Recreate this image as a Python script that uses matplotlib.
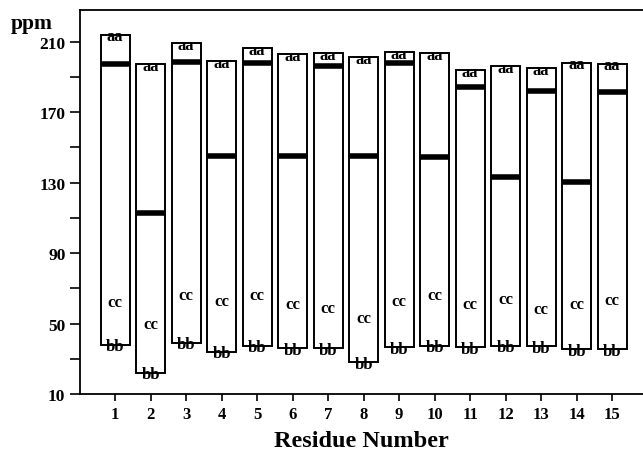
import numpy as np
import matplotlib
matplotlib.use('Agg')
from matplotlib import pyplot as plt
from matplotlib.patches import Rectangle

# values (ppm)
residue = list(range(1, 16))
top_aa = [214, 197, 209, 199, 206.5, 203, 203.5, 201, 204, 203.5, 194, 196, 195, 198, 197.5]
iso_val = [197.5, 113, 198.5, 145, 198, 145, 196, 145, 198, 144.5, 184.5, 133, 182, 130.5, 181.5]
bot_bb = [38, 22, 39, 34, 37.5, 36, 36, 28, 36.5, 37.5, 36.5, 37.5, 37, 35.5, 35.5]
cc_pos = [62, 50, 66, 63, 66, 61, 59, 53, 63, 66, 61, 64, 58.5, 61, 63.5]

plt.rcParams['font.family'] = ['Liberation Serif', 'DejaVu Serif']
plt.rcParams['font.weight'] = 'bold'

fig = plt.figure(figsize=(6.43, 4.52), dpi=100)
ax = fig.add_axes([0.1244, 0.126, 0.8756, 0.85])

w = 0.82
for x, t, m, b, c in zip(residue, top_aa, iso_val, bot_bb, cc_pos):
    ax.add_patch(Rectangle((x - w / 2, b), w, t - b, fill=False, edgecolor='black', lw=1.4))
    ax.plot([x - w / 2, x + w / 2], [m, m], color='black', lw=4, solid_capstyle='butt')
    ax.text(x, t - 1.0, 'aa', ha='center', va='center', fontsize=12, fontweight='bold')
    ax.text(x, b - 0.8, 'bb', ha='center', va='center', fontsize=12, fontweight='bold')
    ax.text(x, c, 'cc', ha='center', va='center', fontsize=12, fontweight='bold')

ax.set_xlim(0.01, 15.87)
ax.set_ylim(10, 228)
ax.set_xticks(residue)
ax.set_yticks([10, 50, 90, 130, 170, 210])
ax.set_yticks([30, 70, 110, 150, 190], minor=True)
ax.tick_params(axis='y', which='both', direction='out', length=7, width=1.2, labelsize=12.5)
ax.tick_params(axis='x', direction='out', length=5, width=1.2, labelsize=12)
for lab in ax.get_xticklabels() + ax.get_yticklabels():
    lab.set_fontweight('bold')

ax.spines['right'].set_visible(False)
for s in ['left', 'top', 'bottom']:
    ax.spines[s].set_linewidth(1.3)

ax.set_xlabel('Residue Number', fontsize=17.5, fontweight='bold', labelpad=6)
fig.text(0.016, 0.948, 'ppm', fontsize=15.5, fontweight='bold', ha='left', va='center')

fig.savefig('out.png', dpi=100)
